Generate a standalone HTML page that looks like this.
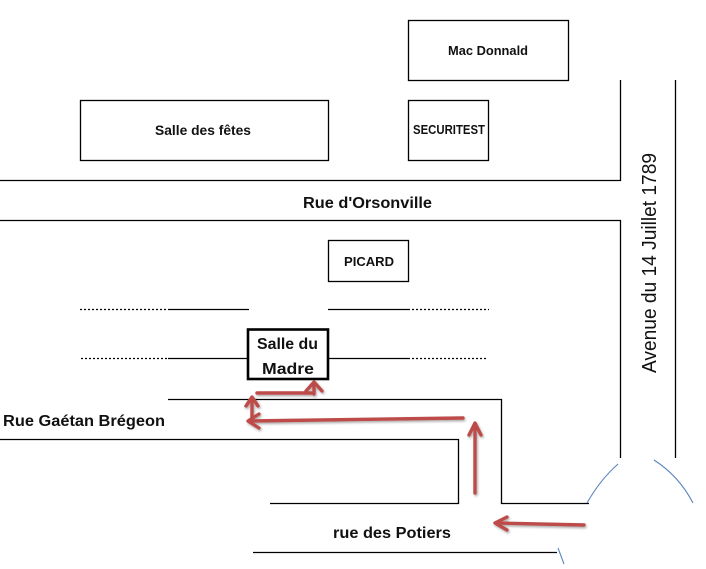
<!DOCTYPE html>
<html>
<head>
<meta charset="utf-8">
<style>
  html, body { margin: 0; padding: 0; background: #ffffff; }
  svg { display: block; }
  .lbl { font-family: "Liberation Sans", "DejaVu Sans", sans-serif; font-weight: bold; fill: #111; }
</style>
</head>
<body>
<svg width="706" height="569" viewBox="0 0 706 569" xmlns="http://www.w3.org/2000/svg">
  <defs>
    <filter id="sh" x="-20%" y="-20%" width="140%" height="140%">
      <feGaussianBlur in="SourceAlpha" stdDeviation="1.2"/>
      <feOffset dx="1" dy="1.5" result="b"/>
      <feComponentTransfer><feFuncA type="linear" slope="0.35"/></feComponentTransfer>
      <feMerge><feMergeNode/><feMergeNode in="SourceGraphic"/></feMerge>
    </filter>
  </defs>

  <!-- Buildings -->
  <g fill="none" stroke="#000" stroke-width="1.3">
    <rect x="408.5" y="20.5" width="160" height="60"/>
    <rect x="80.5" y="100.5" width="248" height="60"/>
    <rect x="408.5" y="100.5" width="80" height="60"/>
    <rect x="328.5" y="240.5" width="80" height="41"/>
  </g>
  <rect x="248" y="329.5" width="80" height="49.5" fill="none" stroke="#000" stroke-width="2.6"/>

  <!-- Streets -->
  <g fill="none" stroke="#000" stroke-width="1.3">
    <path d="M0,180.5 H620.5 V80"/>
    <path d="M0,220.5 H620.5 V458"/>
    <path d="M675.5,80 V458"/>
    <!-- upper dotted street line -->
    <path d="M168,309.5 H249"/>
    <path d="M328,309.5 H408"/>
    <path d="M168,358.5 H248"/>
    <path d="M328,358.5 H408"/>
    <!-- Rue Gaetan Bregeon -->
    <path d="M168,399.5 H501.5 V503.5 H589"/>
    <path d="M0,439.5 H458.5 V503.5 H270"/>
    <!-- rue des Potiers bottom -->
    <path d="M253,552.5 H557"/>
  </g>
  <g fill="none" stroke="#000" stroke-width="1.3" stroke-dasharray="2,2">
    <path d="M80,309.5 H168"/>
    <path d="M408,309.5 H489"/>
    <path d="M81,358.5 H168"/>
    <path d="M408,358.5 H488"/>
  </g>

  <!-- Roundabout arcs -->
  <g fill="none" stroke="#5b86c0" stroke-width="1.1">
    <path d="M587,503 Q600,480 618,464"/>
    <path d="M654,460 Q679,476 693,503"/>
    <path d="M558,548 Q561,556 564,564"/>
  </g>

  <!-- Red arrows -->
  <g fill="none" stroke="#bd4b48" stroke-width="3.4" stroke-linecap="round" stroke-linejoin="round" filter="url(#sh)">
    <path d="M257,393 H312"/>
    <path d="M314,394 V383 M306,391 L314,382 L322,391"/>
    <path d="M252,399 V420"/>
    <path d="M246,406 L252,397 L258,406"/>
    <path d="M463,418 L249,421"/>
    <path d="M259,414 L248,421 L259,428"/>
    <path d="M475,493 V425"/>
    <path d="M469,435 L475,423 L481,435"/>
    <path d="M584,525 L497,523"/>
    <path d="M507,517 L495,523 L507,530"/>
  </g>

  <!-- Labels -->
  <text class="lbl" x="448" y="55" font-size="12.5" textLength="80" lengthAdjust="spacingAndGlyphs">Mac Donnald</text>
  <text class="lbl" x="155" y="135" font-size="14" textLength="96" lengthAdjust="spacingAndGlyphs">Salle des fêtes</text>
  <text class="lbl" x="413" y="134" font-size="12.5" textLength="72" lengthAdjust="spacingAndGlyphs">SECURITEST</text>
  <text class="lbl" x="303" y="208" font-size="16" textLength="129" lengthAdjust="spacingAndGlyphs">Rue d'Orsonville</text>
  <text class="lbl" x="344" y="266" font-size="12.5" textLength="50" lengthAdjust="spacingAndGlyphs">PICARD</text>
  <text class="lbl" x="257" y="349" font-size="16" textLength="61" lengthAdjust="spacingAndGlyphs">Salle du</text>
  <text class="lbl" x="262" y="374" font-size="16" textLength="52" lengthAdjust="spacingAndGlyphs">Madre</text>
  <text class="lbl" x="3" y="426" font-size="16" textLength="162" lengthAdjust="spacingAndGlyphs">Rue Gaétan Brégeon</text>
  <text class="lbl" x="333" y="538" font-size="16" textLength="118" lengthAdjust="spacingAndGlyphs">rue des Potiers</text>
  <text x="0" y="0" transform="translate(656,373) rotate(-90)" font-family="'Liberation Sans', 'DejaVu Sans', sans-serif" font-size="20" fill="#111" textLength="220" lengthAdjust="spacingAndGlyphs">Avenue du 14 Juillet 1789</text>
</svg>
</body>
</html>
